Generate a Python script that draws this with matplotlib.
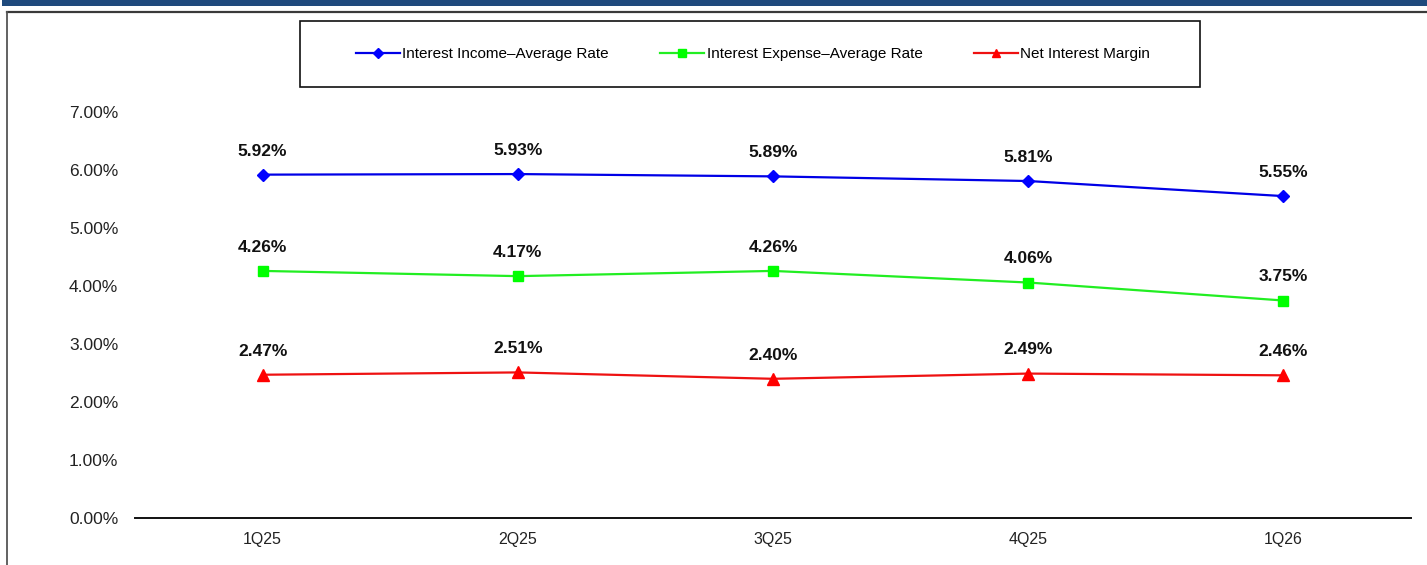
import matplotlib
matplotlib.use("Agg")
import matplotlib.pyplot as plt
from matplotlib.lines import Line2D
from matplotlib.patches import Rectangle
from matplotlib.ticker import FuncFormatter

# ── data ──────────────────────────────────────────────────────────────────────
quarters = ["1Q25", "2Q25", "3Q25", "4Q25", "1Q26"]
income_rate = [5.92, 5.93, 5.89, 5.81, 5.55]
expense_rate = [4.26, 4.17, 4.26, 4.06, 3.75]
net_margin = [2.47, 2.51, 2.40, 2.49, 2.46]

series = [
    ("Interest Income\u2013Average Rate", income_rate, "#0000E6", "#0000FF", "D", 6),
    ("Interest Expense\u2013Average Rate", expense_rate, "#22EE22", "#00FF00", "s", 7),
    ("Net Interest Margin", net_margin, "#EE1111", "#FF0000", "^", 8),
]

plt.rcParams["font.family"] = ["Liberation Sans", "DejaVu Sans"]

W, H = 1427, 565
fig = plt.figure(figsize=(W / 100, H / 100), dpi=100)

# ── slide decoration: blue band and frame ────────────────────────────────────
fig.add_artist(Rectangle((2 / W, 1 - 6 / H), 1, 6 / H, transform=fig.transFigure,
                         facecolor="#1F4A7D", edgecolor="none"))
fig.add_artist(Line2D([6.5 / W, 1], [1 - 11.5 / H, 1 - 11.5 / H],
                      transform=fig.transFigure, color="#3a3a3a", lw=1.6))
fig.add_artist(Line2D([6.5 / W, 6.5 / W], [0, 1 - 11.5 / H],
                      transform=fig.transFigure, color="#555555", lw=1.3))

# ── axes ──────────────────────────────────────────────────────────────────────
ax = fig.add_axes([135 / W, 1 - 518 / H, (1411 - 135) / W, (518 - 112) / H])
x = range(len(quarters))

handles = []
for label, vals, lc, mc, mk, ms in series:
    h, = ax.plot(x, vals, color=lc, lw=1.6, marker=mk, markersize=ms,
                 markerfacecolor=mc, markeredgecolor=mc, label=label)
    handles.append(h)
    for xi, v in zip(x, vals):
        ax.annotate(f"{v:.2f}%", (xi, v), xytext=(0, 17), textcoords="offset points",
                    ha="center", va="center", fontsize=12.5, fontweight="bold",
                    color="#111111")

ax.set_xlim(-0.5, len(quarters) - 0.5)
ax.set_ylim(0, 7)
ax.set_yticks(range(0, 8))
ax.yaxis.set_major_formatter(FuncFormatter(lambda v, p: f"{v:.2f}%"))
ax.set_xticks(list(x))
ax.set_xticklabels(quarters)
ax.tick_params(axis="x", length=0, labelsize=11.5, colors="#222222", pad=10)
ax.tick_params(axis="y", length=0, labelsize=12.5, colors="#222222", pad=12)
for side in ("top", "right", "left"):
    ax.spines[side].set_visible(False)
ax.spines["bottom"].set_color("#111111")
ax.spines["bottom"].set_linewidth(1.4)

# ── legend in a boxed frame above the plot ───────────────────────────────────
leg = fig.legend(handles=handles, loc="center",
                 bbox_to_anchor=(753 / W, 1 - 54 / H), ncol=3, fontsize=11,
                 frameon=False, handlelength=2.9, columnspacing=3.35,
                 handletextpad=0.15, markerscale=0.8)
fig.add_artist(Rectangle((300 / W, 1 - 87 / H), 900 / W, 66 / H,
                         transform=fig.transFigure, facecolor="none",
                         edgecolor="#111111", lw=1.2))

fig.savefig("out.png", dpi=100)
